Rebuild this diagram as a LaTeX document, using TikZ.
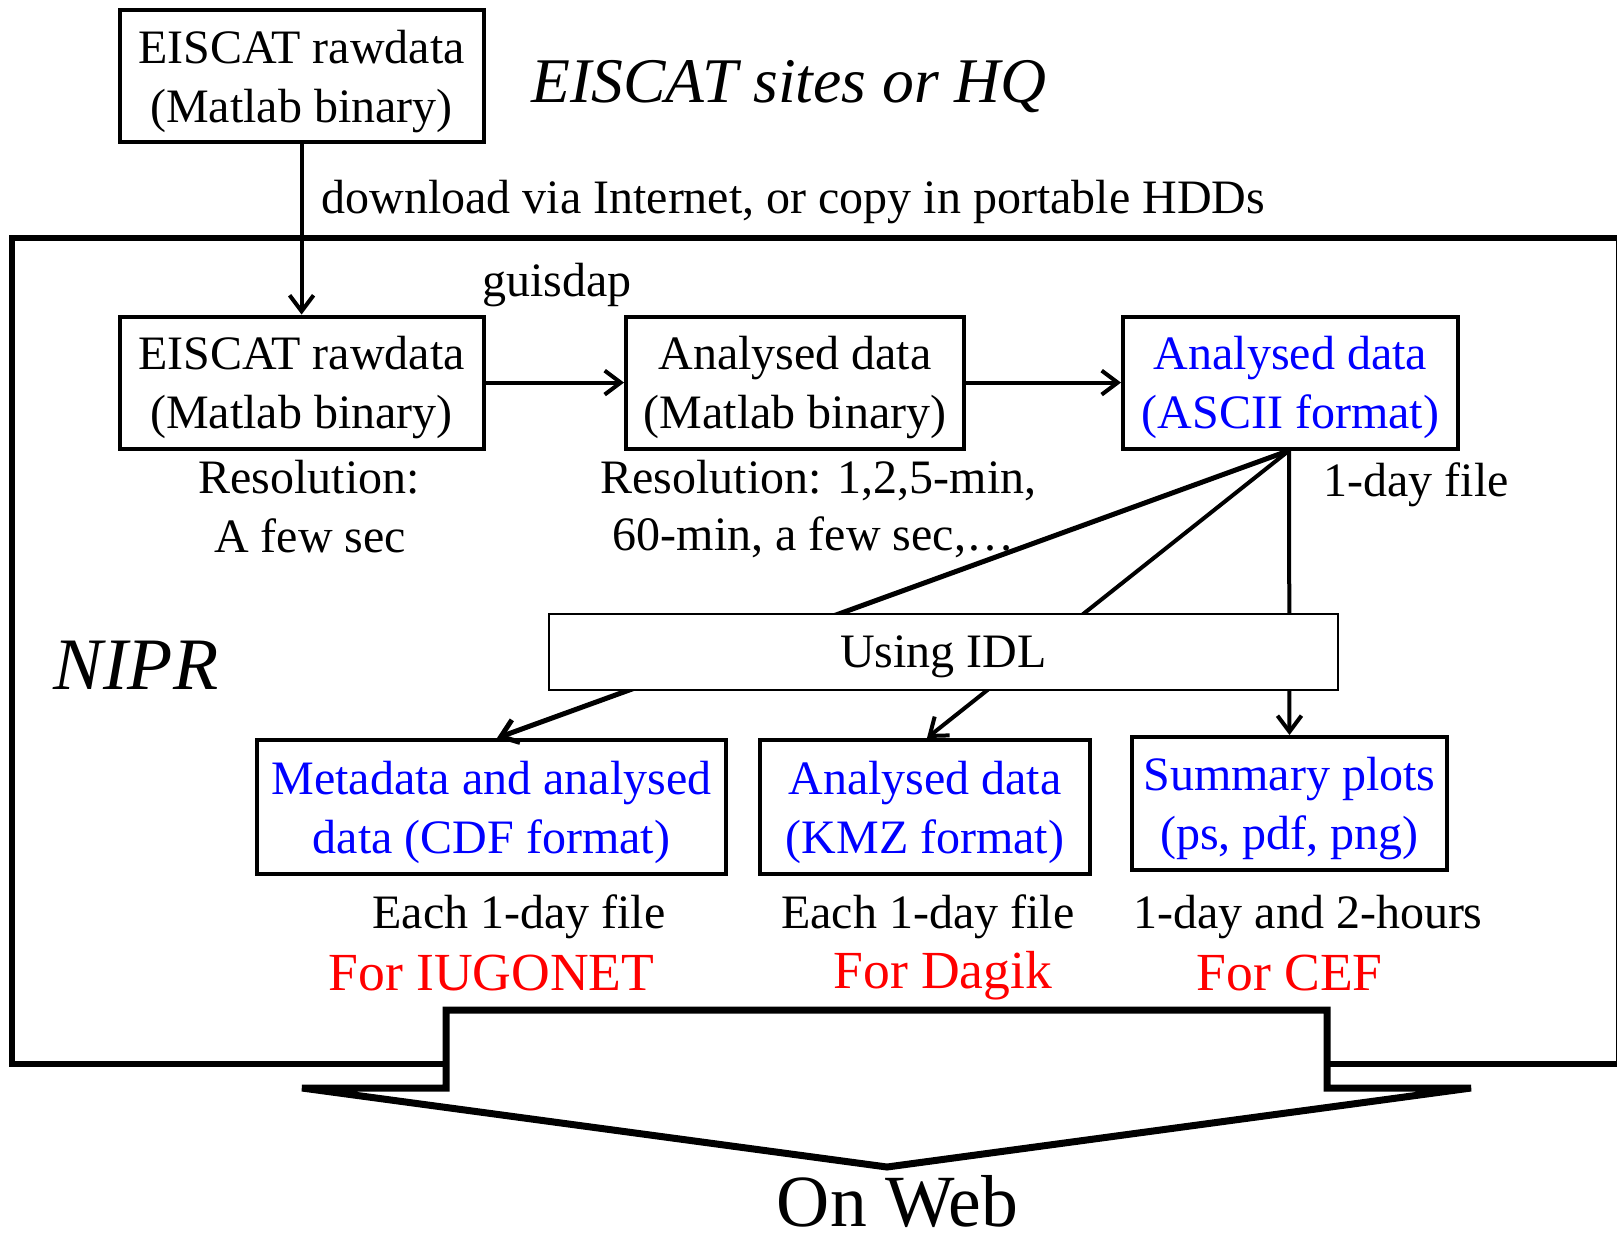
\documentclass[tikz,border=0pt]{standalone}
\usepackage{fontspec}
\setmainfont{Liberation Serif}
\usetikzlibrary{arrows.meta}
\begin{document}
\begin{tikzpicture}[x=0.5pt,y=-0.5pt,
  mainfont/.style={font=\fontsize{24pt}{29.5pt}\selectfont},
  box/.style={draw,line width=2pt,inner sep=0pt,align=center,text depth=0pt,mainfont},
  bluebox/.style={box,text=blue},
  txt/.style={inner sep=0pt,anchor=base west,mainfont},
  redtxt/.style={inner sep=0pt,anchor=base west,text=red,font=\fontsize{26.8pt}{30pt}\selectfont},
  arr/.style={line width=2pt,-{Straight Barb[length=8pt,width=12pt]}},
  ln/.style={line width=2pt}
]
\useasboundingbox (0,0) rectangle (1617,1233);

% NIPR frame
\draw[line width=3pt] (12.4,238) rectangle (1618.5,1064);

% boxes
\node[box,minimum width=182pt,minimum height=66pt] (t0) at (301.6,76.4) {EISCAT rawdata\\(Matlab binary)};
\node[box,minimum width=182pt,minimum height=66pt] (b1) at (301.6,382.6) {EISCAT rawdata\\(Matlab binary)};
\node[box,minimum width=169pt,minimum height=66pt] (b2) at (795,382.6) {Analysed data\\(Matlab binary)};
\node[bluebox,minimum width=167.5pt,minimum height=66pt] (b3) at (1290.5,382.6) {Analysed data\\(ASCII format)};
\node[bluebox,minimum width=234.5pt,minimum height=67pt] (b5) at (491.5,807) {Metadata and analysed\\data (CDF format)};
\node[bluebox,minimum width=165pt,minimum height=67pt] (b6) at (925,807) {Analysed data\\(KMZ format)};
\node[bluebox,minimum width=157.5pt,minimum height=66.5pt] (b7) at (1289.5,803.5) {Summary plots\\(ps, pdf, png)};

% connectors
\draw[arr] (t0.south) -- (b1.north);
\draw[arr] (b1.east) -- (b2.west);
\draw[arr] (b2.east) -- (b3.west);
\coordinate (src) at ([xshift=-0.75pt]b3.south);
\coordinate (d5) at ([xshift=2.75pt]b5.north);
\coordinate (d6) at ([xshift=1pt]b6.north);
\draw[arr,line width=2.5pt] (src) -- (d5);
\draw[arr] (src) -- (d6);
\draw[arr] (src) -- (b7.north);

% IDL box over the lines
\node[draw,line width=1pt,fill=white,inner sep=0pt,minimum width=394.5pt,minimum height=38pt,text depth=0pt,mainfont] (idl) at (943.5,652) {Using IDL};

% texts
\node[inner sep=0pt,anchor=base west,font=\fontsize{31.8pt}{36pt}\selectfont\itshape] (sites) at (531,102) {EISCAT sites or HQ};
\node[txt] (dl) at (321,213.5) {download via Internet, or copy in portable HDDs};
\node[txt] (gd) at (481.6,296) {guisdap};
\node[inner sep=0pt,anchor=base,mainfont] (r1a) at (309,493) {Resolution:};
\node[inner sep=0pt,anchor=base,mainfont] (r1b) at (310,552) {A few sec};
\node[txt] (r2a) at (600,493) {Resolution: 1,2,5-min,};
\node[txt] (r2b) at (612.5,550) {60-min, a few sec,…};
\node[txt] (oneday) at (1323,496) {1-day file};
\node[inner sep=0pt,anchor=base west,font=\fontsize{37pt}{40pt}\selectfont\itshape] (nipr) at (53.6,689) {NIPR};
\node[txt] (e5) at (372,928) {Each 1-day file};
\node[txt] (e6) at (780.7,928) {Each 1-day file};
\node[txt] (e7) at (1133,928) {1-day and 2-hours};
\node[redtxt] (f5) at (328,990) {For IUGONET};
\node[redtxt] (f6) at (833,988) {For Dagik};
\node[redtxt] (f7) at (1196,990) {For CEF};

% big arrow
\draw[line width=3.5pt,fill=white] (446,1010) -- (1327,1010) -- (1327,1088) -- (1471,1088) -- (887,1167) -- (302,1088) -- (446,1088) -- cycle;
\node[inner sep=0pt,anchor=base west,font=\fontsize{36.8pt}{40pt}\selectfont] (web) at (776.5,1226) {On Web};
\end{tikzpicture}
\end{document}
